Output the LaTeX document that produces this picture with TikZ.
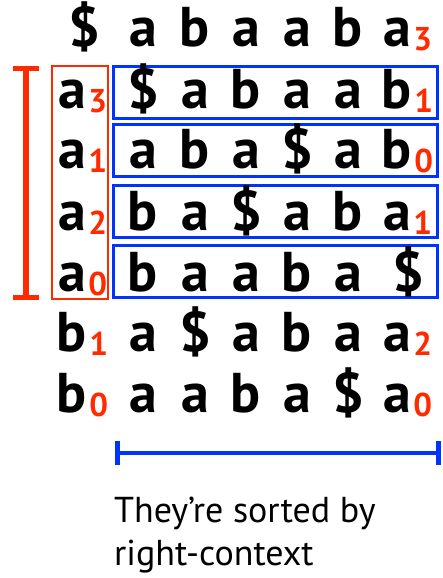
\documentclass[tikz,border=0pt]{standalone}
\usepackage{fontspec}
\setmainfont{PT Sans}
\usetikzlibrary{arrows.meta,positioning,calc}
\definecolor{bwRed}{HTML}{FF2A00}
\definecolor{bwBlue}{HTML}{0033FF}
\tikzset{
    % letters of the rotations and their rank subscripts
    sym/.style={inner sep=0pt,anchor=base,font=\fontsize{56}{56}\selectfont\bfseries},
    idx/.style={inner sep=0pt,anchor=base west,text=bwRed,font=\fontsize{33}{33}\selectfont\bfseries},
    % boxes round the rows and the first column
    rowbox/.style={draw=bwBlue,line width=3pt,minimum width=324pt,minimum height=52pt,inner sep=0pt},
    colbox/.style={draw=bwRed,line width=2pt,minimum width=56pt,minimum height=233pt,inner sep=0pt},
    % range brackets
    redrange/.style={draw=bwRed,line width=5.5pt,{Bar[width=26pt,line width=5pt]}-{Bar[width=26pt,line width=5pt]}},
    bluerange/.style={draw=bwBlue,line width=4.5pt,{Bar[width=24pt,line width=5pt]}-{Bar[width=24pt,line width=5pt]}},
    note/.style={inner sep=0pt,align=left,font=\fontsize{36}{43}\selectfont}
}

\begin{document}
\begin{tikzpicture}[x=1pt,y=-1pt]
  \useasboundingbox (0,0) rectangle (442,578);

  % Row boxes and the first-column box
  \node[rowbox] (box1) at (275.5,92.5) {};
  \node[rowbox] (box2) at (275.5,150.5) {};
  \node[rowbox] (box3) at (275.5,211) {};
  \node[rowbox] (box4) at (275.5,271.5) {};
  \node[colbox] (firstcol) at (80,182.5) {};

  % Rotations, one row at a time (first/last letter shifts where needed)
  \foreach \rw/\y/\txt/\fs/\ls in {
      0/47/{\$,a,b,a,a,b,a}/12/0,
      1/108/{a,\$,a,b,a,a,b}/0/0,
      2/168/{a,a,b,a,\$,a,b}/0/0,
      3/230/{a,b,a,\$,a,b,a}/0/0,
      4/291/{a,b,a,a,b,a,\$}/0/11,
      5/351/{b,a,\$,a,b,a,a}/0/0,
      6/412/{b,a,a,b,a,\$,a}/0/0}{
    \foreach \ch [count=\cl] in \txt {
      \pgfmathsetmacro\xx{{72,143,195,246,297,348,397}[\cl-1]+(\cl==1)*\fs+(\cl==7)*\ls}
      \node[sym] (cell-\rw-\cl) at (\xx,\y) {\ch};
    }
  }

  % Rank subscripts
  \foreach \rw/\cl/\d in {0/7/3,1/1/3,1/7/1,2/1/1,2/7/0,3/1/2,3/7/1,4/1/0,5/1/1,5/7/2,6/1/0,6/7/0}
    \node[idx] (rank-\rw-\cl) at ([xshift=2pt,yshift=-4pt]cell-\rw-\cl.base east) {\d};

  % Brackets
  \coordinate (redtop) at (26,66);
  \coordinate (redbot) at (26,300);
  \draw[redrange] (redtop) -- (redbot);
  \coordinate (bluel) at (115,453);
  \coordinate (bluer) at (441,453);
  \draw[bluerange] (bluel) -- (bluer);

  % Caption
  \node[note,anchor=north west] (caption) at (114,497) {They’re sorted by\\right-context};
\end{tikzpicture}
\end{document}
